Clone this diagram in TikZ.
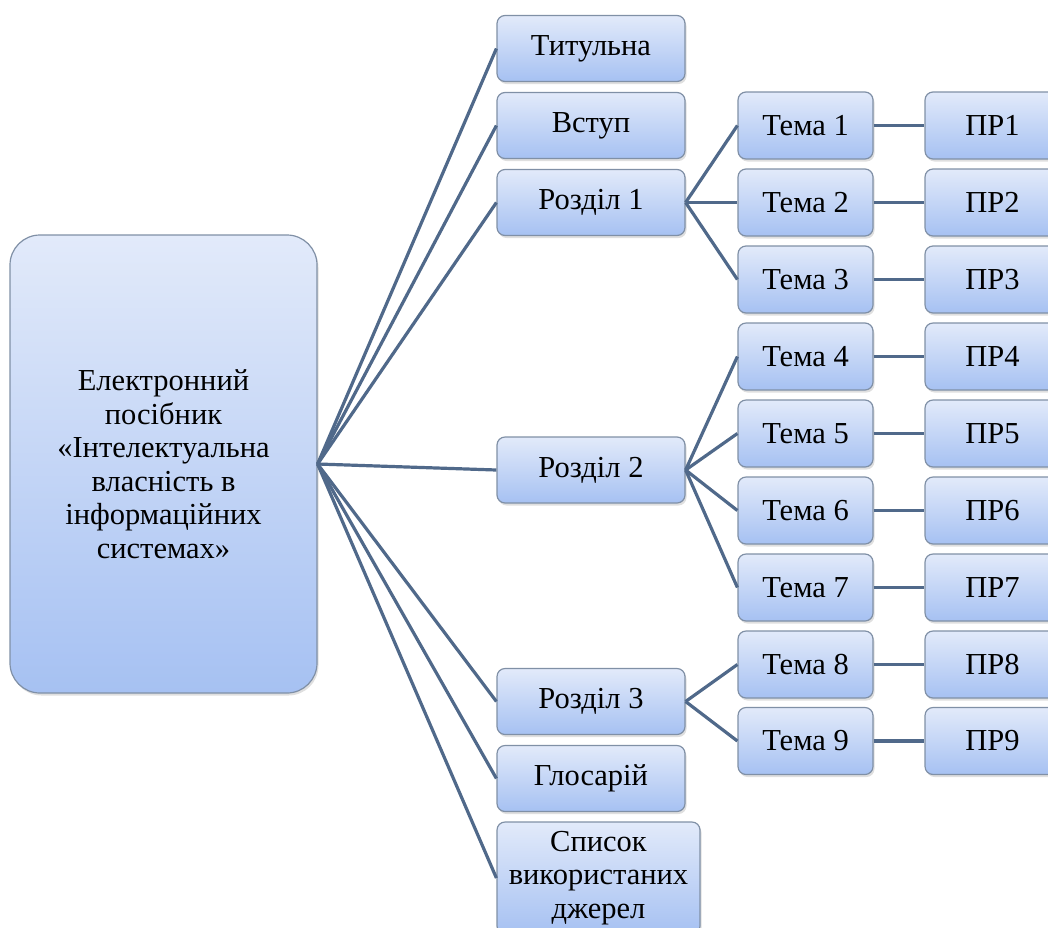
\documentclass[tikz,border=0pt]{standalone}
\usepackage{fontspec}
\setmainfont{Liberation Serif}
\newfontfamily\diagfont{Liberation Serif}
\usetikzlibrary{positioning,shapes,shadows,calc}
\definecolor{boxtop}{RGB}{226,234,250}
\definecolor{boxbottom}{RGB}{166,193,242}
\definecolor{boxedge}{RGB}{128,144,166}
\definecolor{linkblue}{RGB}{80,105,138}

\tikzset{
  box/.style={draw=boxedge, line width=1.2pt, rounded corners=8pt, top color=boxtop, bottom color=boxbottom,
    minimum width=188pt, minimum height=66pt, align=center, inner sep=1pt,
    font=\diagfont\fontsize{30.5}{33.5}\selectfont,
    drop shadow={opacity=0.25, shadow xshift=1.5pt, shadow yshift=-2.5pt}},
  topic/.style={box, minimum width=135pt, minimum height=67pt},
  link/.style={draw=linkblue, line width=3.2pt}
}

\begin{document}
\begin{tikzpicture}[x=1pt,y=-1pt]
\useasboundingbox (0,0) rectangle (1048,927);
\clip (0,0) rectangle (1048,927);

% Root
\node[box, rounded corners=30pt, minimum width=307pt, minimum height=458pt] (main) at (163.5,464)
  {Електронний\\посібник\\«Інтелектуальна\\власність в\\інформаційних\\системах»};

% First level
\node[box] (tit) at (591,48.5) {Титульна};
\node[box] (intro) at (591,125.5) {Вступ};
\node[box] (sec1) at (591,202.5) {Розділ 1};
\node[box] (sec2) at (591,470) {Розділ 2};
\node[box] (sec3) at (591,701.5) {Розділ 3};
\node[box] (gloss) at (591,778.5) {Глосарій};
\node[box, minimum width=203pt, minimum height=112pt] (refs) at (598.5,878) {Список\\використаних\\джерел};

% Topics
\node[topic] (t1) at (805.5,125.5) {Тема 1};
\node[topic] (t2) at (805.5,202.5) {Тема 2};
\node[topic] (t3) at (805.5,279.5) {Тема 3};
\node[topic] (t4) at (805.5,356.5) {Тема 4};
\node[topic] (t5) at (805.5,433.5) {Тема 5};
\node[topic] (t6) at (805.5,510.5) {Тема 6};
\node[topic] (t7) at (805.5,587.5) {Тема 7};
\node[topic] (t8) at (805.5,664.5) {Тема 8};
\node[topic] (t9) at (805.5,741) {Тема 9};

% Practical works
\node[topic] (p1) at (992.5,125.5) {ПР1};
\node[topic] (p2) at (992.5,202.5) {ПР2};
\node[topic] (p3) at (992.5,279.5) {ПР3};
\node[topic] (p4) at (992.5,356.5) {ПР4};
\node[topic] (p5) at (992.5,433.5) {ПР5};
\node[topic] (p6) at (992.5,510.5) {ПР6};
\node[topic] (p7) at (992.5,587.5) {ПР7};
\node[topic] (p8) at (992.5,664.5) {ПР8};
\node[topic] (p9) at (992.5,741) {ПР9};

% Links
\draw[link] (main.east) -- (tit.west);
\draw[link] (main.east) -- (intro.west);
\draw[link] (main.east) -- (sec1.west);
\draw[link] (main.east) -- (sec2.west);
\draw[link] (main.east) -- (sec3.west);
\draw[link] (main.east) -- (gloss.west);
\draw[link] (main.east) -- (refs.west);
\draw[link] (sec1.east) -- (t1.west);
\draw[link] (sec1.east) -- (t2.west);
\draw[link] (sec1.east) -- (t3.west);
\draw[link] (sec2.east) -- (t4.west);
\draw[link] (sec2.east) -- (t5.west);
\draw[link] (sec2.east) -- (t6.west);
\draw[link] (sec2.east) -- (t7.west);
\draw[link] (sec3.east) -- (t8.west);
\draw[link] (sec3.east) -- (t9.west);
\draw[link] (t1.east) -- (p1.west);
\draw[link] (t2.east) -- (p2.west);
\draw[link] (t3.east) -- (p3.west);
\draw[link] (t4.east) -- (p4.west);
\draw[link] (t5.east) -- (p5.west);
\draw[link] (t6.east) -- (p6.west);
\draw[link] (t7.east) -- (p7.west);
\draw[link] (t8.east) -- (p8.west);
\draw[link] (t9.east) -- (p9.west);

\end{tikzpicture}
\end{document}
